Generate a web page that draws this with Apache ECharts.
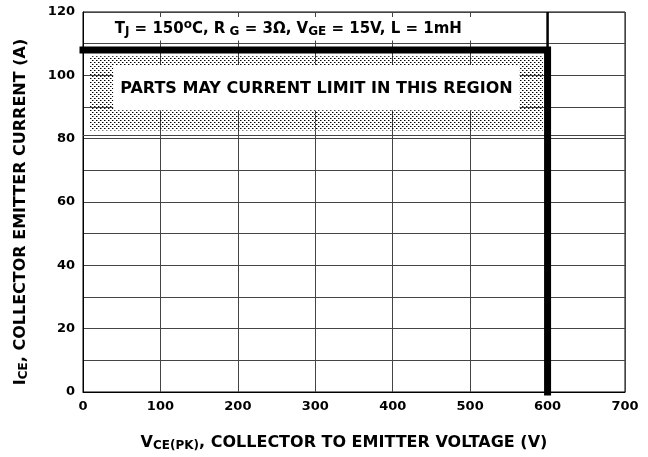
<!DOCTYPE html>
<html><head><meta charset="utf-8">
<script src="https://cdn.jsdelivr.net/npm/echarts@6/dist/echarts.min.js"></script>
<style>html,body{margin:0;padding:0;background:#fff}#c{width:648px;height:457px}</style>
</head><body><div id="c"></div>
<script>
// ---- data ----
const xRange = [0, 700];
const xStep = 100;
const yRange = [0, 120];
const yStep = 10;
const yLabelStep = 20;
const limitLine = [[0, 108], [600, 108], [600, 0]];
const capLine = [[600, 108], [600, 120]];
const extraGridY = 81;
const regionOuter = [[9, 106], [594, 82.6]];
const regionInner = [[39, 103.3], [564, 89]];
const condBox = [[10, 118.4], [590, 111]];
const regionText = 'PARTS MAY CURRENT LIMIT IN THIS REGION';

const FONT = 'DejaVu Sans';
// dotted pattern
const pc = document.createElement('canvas');
pc.width = 4; pc.height = 4;
const g = pc.getContext('2d');
g.fillStyle = '#000';
[[0,0],[2,2]].forEach(p => g.fillRect(p[0], p[1], 1, 1));
g.fillStyle = '#888';
[[1,0],[3,2]].forEach(p => g.fillRect(p[0], p[1], 1, 1));

const chart = echarts.init(document.getElementById('c'), null, {renderer: 'canvas'});
const txt = {color: '#000', fontFamily: FONT, fontWeight: 'bold'};
chart.setOption({
  animation: false,
  backgroundColor: '#fff',
  grid: {left: 83, right: 23, top: 12, bottom: 64, show: true, borderColor: '#000', borderWidth: 1},
  xAxis: {
    type: 'value', min: xRange[0], max: xRange[1], interval: xStep,
    axisLine: {lineStyle: {color: '#000', width: 1}},
    axisTick: {show: false},
    splitLine: {lineStyle: {color: '#444', width: 1}},
    axisLabel: Object.assign({fontSize: 13, margin: 8}, txt),
    name: '{b|V}{s|CE(PK)}{b|, COLLECTOR TO EMITTER VOLTAGE (V)}',
    nameLocation: 'middle', nameGap: 41,
    nameTextStyle: {padding: [0, 20, 0, 0], rich: {
      b: Object.assign({fontSize: 16}, txt),
      s: Object.assign({fontSize: 12, padding: [7, 0, 0, 0]}, txt)
    }}
  },
  yAxis: {
    type: 'value', min: yRange[0], max: yRange[1], interval: yStep,
    axisLine: {lineStyle: {color: '#000', width: 1}},
    axisTick: {show: false},
    splitLine: {lineStyle: {color: '#444', width: 1}},
    axisLabel: Object.assign({fontSize: 13, margin: 8,
      formatter: v => (v % yLabelStep === 0 ? String(v) : '')}, txt),
    name: '{b|I}{s|CE}{b|, COLLECTOR EMITTER CURRENT (A)}',
    nameLocation: 'middle', nameGap: 53,
    nameTextStyle: {padding: [0, 20, 0, 0], rich: {
      b: Object.assign({fontSize: 16}, txt),
      s: Object.assign({fontSize: 12, padding: [7, 0, 0, 0]}, txt)
    }}
  },
  series: [
    {
      type: 'line', data: [], silent: true,
      markLine: {
        silent: true, symbol: 'none', label: {show: false},
        lineStyle: {color: '#444', width: 1, type: 'solid'},
        data: [{yAxis: extraGridY}]
      },
      markArea: {
        silent: true,
        data: [
          [{coord: regionOuter[0], itemStyle: {color: {image: pc, repeat: 'repeat'}}}, {coord: regionOuter[1]}],
          [{coord: regionInner[0], itemStyle: {color: '#fff'},
            label: Object.assign({show: true, position: 'inside', offset: [0, 1], formatter: regionText, fontSize: 16}, txt)},
           {coord: regionInner[1]}],
          [{coord: condBox[0], itemStyle: {color: '#fff'},
            label: {show: true, position: 'inside', offset: [-27, 0],
              formatter: '{b|T}{s|J}{b| = 150}{u|o}{b|C, R}{s| G}{b| = 3Ω, V}{s|GE}{b| = 15V, L = 1mH}',
              rich: {
                b: Object.assign({fontSize: 15}, txt),
                s: Object.assign({fontSize: 12, padding: [6, 0, 0, 0]}, txt),
                u: Object.assign({fontSize: 12, padding: [0, 0, 7, 0]}, txt)
              }}},
           {coord: condBox[1]}]
        ]
      }
    },
    {
      type: 'line', data: limitLine, symbol: 'none', clip: false, silent: true,
      lineStyle: {color: '#000', width: 7, cap: 'square', join: 'miter'}, z: 5
    },
    {
      type: 'line', data: capLine, symbol: 'none', silent: true,
      lineStyle: {color: '#000', width: 2.5}, z: 4
    }
  ]
});
</script>
</body></html>
